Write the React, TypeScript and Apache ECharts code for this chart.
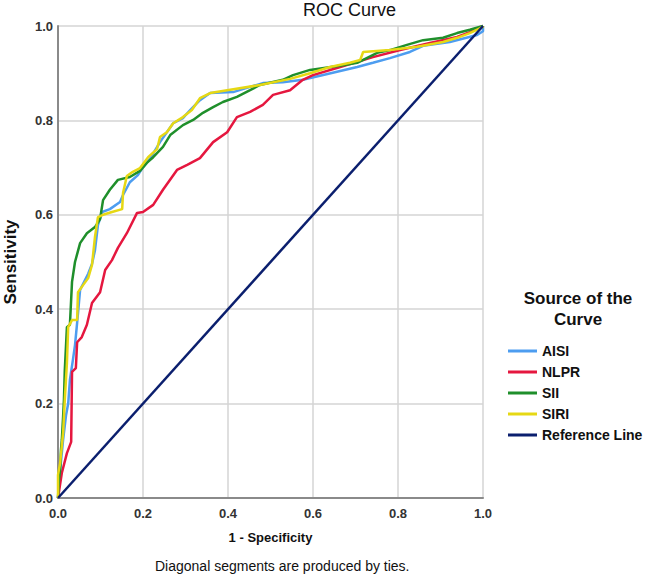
import React, { useEffect, useRef } from "react";
import * as echarts from "echarts";

const xTicks = [0, 0.2, 0.4, 0.6, 0.8, 1.0];

const seriesNames = ["AISI", "NLPR", "SII", "SIRI", "Reference Line"];
const seriesColors = ["#4d9df0", "#e5173f", "#1f8f2b", "#e6d814", "#0b1f6e"];

const AISI: [number, number][] = [
  [0, 0], [0.005, 0.059], [0.012, 0.123], [0.019, 0.176], [0.024, 0.2], [0.028, 0.25],
  [0.035, 0.292], [0.04, 0.324], [0.045, 0.371], [0.052, 0.441], [0.071, 0.475],
  [0.08, 0.496], [0.087, 0.525], [0.094, 0.578], [0.104, 0.606], [0.122, 0.612],
  [0.146, 0.627], [0.153, 0.642], [0.169, 0.669], [0.188, 0.684], [0.2, 0.701],
  [0.216, 0.718], [0.24, 0.754], [0.271, 0.794], [0.294, 0.805], [0.311, 0.822],
  [0.334, 0.843], [0.358, 0.858], [0.412, 0.86], [0.452, 0.871], [0.482, 0.879],
  [0.529, 0.881], [0.576, 0.886], [0.624, 0.896], [0.704, 0.913], [0.741, 0.922],
  [0.781, 0.932], [0.828, 0.945], [0.859, 0.958], [0.922, 0.966], [0.986, 0.981],
  [1.0, 0.989], [1.0, 1.0],
];

const NLPR: [number, number][] = [
  [0, 0], [0.009, 0.053], [0.021, 0.095], [0.031, 0.119], [0.033, 0.267], [0.042, 0.275],
  [0.045, 0.33], [0.056, 0.341], [0.068, 0.367], [0.08, 0.413], [0.099, 0.436],
  [0.111, 0.483], [0.127, 0.504], [0.141, 0.53], [0.162, 0.561], [0.186, 0.604],
  [0.2, 0.606], [0.224, 0.621], [0.247, 0.653], [0.28, 0.695], [0.304, 0.706],
  [0.334, 0.72], [0.365, 0.754], [0.398, 0.775], [0.421, 0.807], [0.452, 0.818],
  [0.482, 0.833], [0.506, 0.854], [0.546, 0.864], [0.576, 0.886], [0.6, 0.896],
  [0.664, 0.913], [0.741, 0.934], [0.805, 0.949], [0.875, 0.964], [0.939, 0.977],
  [0.969, 0.987], [1.0, 1.0],
];

const SII: [number, number][] = [
  [0, 0], [0.002, 0.038], [0.005, 0.059], [0.007, 0.102], [0.009, 0.123], [0.012, 0.172],
  [0.014, 0.208], [0.016, 0.271], [0.021, 0.362], [0.028, 0.367], [0.033, 0.458],
  [0.04, 0.5], [0.052, 0.54], [0.068, 0.561], [0.087, 0.574], [0.099, 0.591],
  [0.106, 0.631], [0.122, 0.653], [0.141, 0.674], [0.169, 0.68], [0.193, 0.693],
  [0.209, 0.71], [0.224, 0.722], [0.247, 0.744], [0.264, 0.769], [0.294, 0.79],
  [0.318, 0.801], [0.341, 0.816], [0.365, 0.828], [0.388, 0.839], [0.421, 0.85],
  [0.452, 0.864], [0.475, 0.875], [0.529, 0.886], [0.553, 0.896], [0.593, 0.907],
  [0.671, 0.917], [0.704, 0.922], [0.751, 0.943], [0.781, 0.949], [0.821, 0.96],
  [0.859, 0.97], [0.906, 0.975], [0.939, 0.985], [0.969, 0.992], [1.0, 1.0],
];

const SIRI: [number, number][] = [
  [0, 0], [0.0, 0.049], [0.005, 0.074], [0.012, 0.138], [0.016, 0.208], [0.021, 0.286],
  [0.024, 0.362], [0.033, 0.377], [0.045, 0.377], [0.047, 0.436], [0.059, 0.451],
  [0.071, 0.466], [0.08, 0.494], [0.087, 0.553], [0.094, 0.595], [0.106, 0.6],
  [0.127, 0.606], [0.151, 0.612], [0.153, 0.646], [0.162, 0.682], [0.176, 0.691],
  [0.193, 0.699], [0.212, 0.722], [0.233, 0.739], [0.24, 0.765], [0.256, 0.775],
  [0.271, 0.794], [0.294, 0.807], [0.315, 0.822], [0.334, 0.847], [0.358, 0.858],
  [0.398, 0.864], [0.475, 0.875], [0.546, 0.888], [0.593, 0.9], [0.64, 0.913],
  [0.687, 0.922], [0.711, 0.928], [0.718, 0.945], [0.781, 0.949], [0.845, 0.956],
  [0.906, 0.966], [0.939, 0.975], [0.969, 0.985], [1.0, 0.998], [1.0, 1.0],
];

const REFERENCE: [number, number][] = [
  [0, 0], [1, 1],
];

const seriesData = [AISI, NLPR, SII, SIRI, REFERENCE];

const FONT = "'Liberation Sans', Arial, sans-serif";

export default function App() {
  const ref = useRef<HTMLDivElement>(null);
  useEffect(() => {
    if (!ref.current) return;
    const chart = echarts.init(ref.current, undefined, { renderer: "svg" });
    chart.setOption({
      animation: false,
      backgroundColor: "#ffffff",
      title: [
        {
          text: "ROC Curve",
          left: 303,
          top: 1,
          padding: 0,
          textStyle: { fontFamily: FONT, fontSize: 18, fontWeight: "normal", color: "#111" },
        },
        {
          text: "Source of the\nCurve",
          left: 573,
          top: 283,
          textAlign: "center",
          textStyle: { fontFamily: FONT, fontSize: 17, fontWeight: "bold", color: "#111", lineHeight: 21 },
        },
      ],
      legend: {
        orient: "vertical",
        left: 503,
        top: 337,
        itemWidth: 29,
        itemHeight: 3,
        itemGap: 3,
        itemTextGap: 3,
        icon: "rect",
        data: seriesNames,
        textStyle: { fontFamily: FONT, fontSize: 14, fontWeight: "bold", color: "#111", lineHeight: 18 },
      },
      grid: { left: 58, top: 26, right: 162, bottom: 80, containLabel: false, outerBoundsMode: "none" },
      xAxis: {
        type: "value",
        min: xTicks[0],
        max: xTicks[xTicks.length - 1],
        interval: 0.2,
        name: "1 - Specificity",
        nameLocation: "middle",
        nameGap: 33,
        nameTextStyle: { fontFamily: FONT, fontSize: 13, fontWeight: "bold", color: "#111" },
        axisLine: { show: true, lineStyle: { color: "#8a8a8a", width: 2 } },
        axisTick: { show: false },
        axisLabel: {
          margin: 9,
          fontFamily: FONT,
          fontSize: 13,
          fontWeight: "bold",
          color: "#333",
          formatter: (v: number) => v.toFixed(1),
        },
        splitLine: { show: true, lineStyle: { color: "#d4d4d4", width: 1.5 } },
      },
      yAxis: {
        type: "value",
        min: 0,
        max: 1,
        interval: 0.2,
        name: "Sensitivity",
        nameLocation: "middle",
        nameGap: 39,
        nameRotate: 90,
        nameTextStyle: { fontFamily: FONT, fontSize: 17, fontWeight: "bold", color: "#111" },
        axisLine: { show: true, lineStyle: { color: "#8a8a8a", width: 2 } },
        axisTick: { show: false },
        axisLabel: {
          margin: 5,
          fontFamily: FONT,
          fontSize: 13,
          fontWeight: "bold",
          color: "#333",
          formatter: (v: number) => v.toFixed(1),
        },
        splitLine: { show: true, lineStyle: { color: "#d4d4d4", width: 1.5 } },
      },
      graphic: [
        {
          type: "text",
          left: 155,
          top: 559,
          style: {
            text: "Diagonal segments are produced by ties.",
            fontFamily: FONT,
            fontSize: 14,
            fill: "#111",
          },
        },
      ],
      series: seriesNames.map((name, i) => ({
        name,
        type: "line",
        data: seriesData[i],
        showSymbol: false,
        symbol: "none",
        color: seriesColors[i],
        lineStyle: { color: seriesColors[i], width: 2.5 },
        clip: false,
        z: 2 + i,
      })),
    });
    return () => chart.dispose();
  }, []);
  return (
    <div
      ref={ref}
      style={{ position: "fixed", left: 0, top: 0, width: 645, height: 578, background: "#fff" }}
    />
  );
}
